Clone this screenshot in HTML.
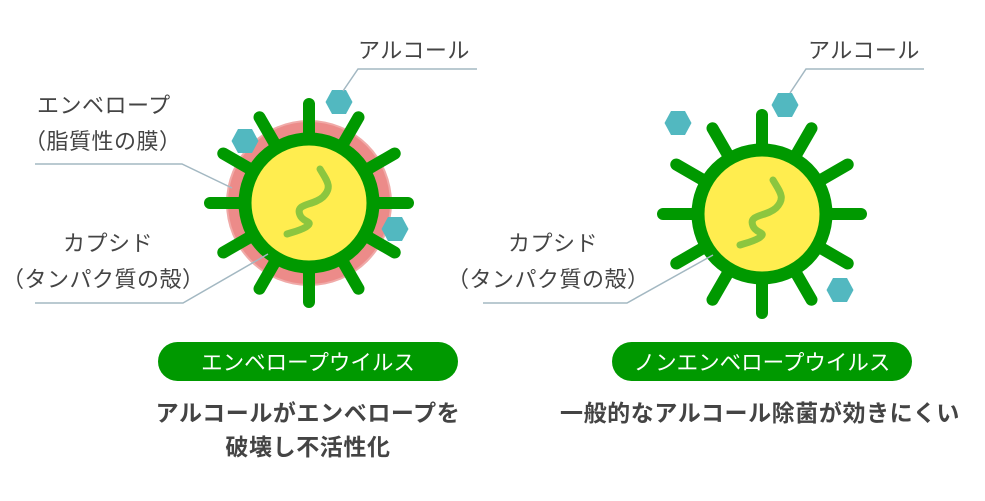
<!DOCTYPE html>
<html><head><meta charset="utf-8"><style>
body{margin:0;background:#fff;}
svg{display:block;font-family:"Liberation Sans","Noto Sans CJK JP",sans-serif;}
</style></head><body>
<svg width="985" height="501" viewBox="0 0 985 501" xmlns="http://www.w3.org/2000/svg">

<circle cx="309" cy="203" r="83" fill="#f0aaa8"/>
<circle cx="309" cy="203" r="81" fill="#ec8b89"/>
<g transform="translate(309,203)">
<g stroke="#009900" stroke-width="12" stroke-linecap="round">
<line x1="0" y1="-70" x2="0" y2="-99"/>
<line x1="0" y1="-70" x2="0" y2="-99" transform="rotate(30)"/>
<line x1="0" y1="-70" x2="0" y2="-99" transform="rotate(60)"/>
<line x1="0" y1="-70" x2="0" y2="-99" transform="rotate(90)"/>
<line x1="0" y1="-70" x2="0" y2="-99" transform="rotate(120)"/>
<line x1="0" y1="-70" x2="0" y2="-99" transform="rotate(150)"/>
<line x1="0" y1="-70" x2="0" y2="-99" transform="rotate(180)"/>
<line x1="0" y1="-70" x2="0" y2="-99" transform="rotate(210)"/>
<line x1="0" y1="-70" x2="0" y2="-99" transform="rotate(240)"/>
<line x1="0" y1="-70" x2="0" y2="-99" transform="rotate(270)"/>
<line x1="0" y1="-70" x2="0" y2="-99" transform="rotate(300)"/>
<line x1="0" y1="-70" x2="0" y2="-99" transform="rotate(330)"/>
</g>
<circle r="64" fill="#ffed4f" stroke="#009900" stroke-width="13"/>
<path d="M11,-34 C18,-22 24,-16 14,-6 C4,3 -14,0 -9,12 C-6,20 6,18 -3,24 C-10,28 -16,29 -22,31" fill="none" stroke="#8cc63f" stroke-width="7" stroke-linecap="round"/>
</g>
<polygon transform="translate(339,102)" points="-13.5,0 -7,-12 7,-12 13.5,0 7,12 -7,12" fill="#52b8c0"/>
<polygon transform="translate(245,141)" points="-13.5,0 -7,-12 7,-12 13.5,0 7,12 -7,12" fill="#52b8c0"/>
<polygon transform="translate(395,229)" points="-13.5,0 -7,-12 7,-12 13.5,0 7,12 -7,12" fill="#52b8c0"/>

<g transform="translate(762,214)">
<g stroke="#009900" stroke-width="12" stroke-linecap="round">
<line x1="0" y1="-70" x2="0" y2="-99"/>
<line x1="0" y1="-70" x2="0" y2="-99" transform="rotate(30)"/>
<line x1="0" y1="-70" x2="0" y2="-99" transform="rotate(60)"/>
<line x1="0" y1="-70" x2="0" y2="-99" transform="rotate(90)"/>
<line x1="0" y1="-70" x2="0" y2="-99" transform="rotate(120)"/>
<line x1="0" y1="-70" x2="0" y2="-99" transform="rotate(150)"/>
<line x1="0" y1="-70" x2="0" y2="-99" transform="rotate(180)"/>
<line x1="0" y1="-70" x2="0" y2="-99" transform="rotate(210)"/>
<line x1="0" y1="-70" x2="0" y2="-99" transform="rotate(240)"/>
<line x1="0" y1="-70" x2="0" y2="-99" transform="rotate(270)"/>
<line x1="0" y1="-70" x2="0" y2="-99" transform="rotate(300)"/>
<line x1="0" y1="-70" x2="0" y2="-99" transform="rotate(330)"/>
</g>
<circle r="64" fill="#ffed4f" stroke="#009900" stroke-width="13"/>
<path d="M11,-34 C18,-22 24,-16 14,-6 C4,3 -14,0 -9,12 C-6,20 6,18 -3,24 C-10,28 -16,29 -22,31" fill="none" stroke="#8cc63f" stroke-width="7" stroke-linecap="round"/>
</g>
<polygon transform="translate(678,123)" points="-13.5,0 -7,-12 7,-12 13.5,0 7,12 -7,12" fill="#52b8c0"/>
<polygon transform="translate(785,105)" points="-13.5,0 -7,-12 7,-12 13.5,0 7,12 -7,12" fill="#52b8c0"/>
<polygon transform="translate(840,290)" points="-13.5,0 -7,-12 7,-12 13.5,0 7,12 -7,12" fill="#52b8c0"/>

<g stroke="#a3b8c2" stroke-width="1.5" fill="none">
<polyline points="477,69 358,69 343,91"/>
<polyline points="35,164 182,164 232,188"/>
<polyline points="35,303 183,303 268,254"/>
<polyline points="924,69 806,69 790,93"/>
<polyline points="483,303 627,303 713,255"/>
</g>

<g fill="#444" font-size="22" letter-spacing="0.5">
<text x="358" y="58">アルコール</text>
<text x="37" y="113">エンベロープ</text>
<text x="24" y="149">（脂質性の膜）</text>
<text x="63" y="251">カプシド</text>
<text x="2" y="287">（タンパク質の殻）</text>
<text x="808" y="58">アルコール</text>
<text x="508" y="251">カプシド</text>
<text x="447" y="287">（タンパク質の殻）</text>
</g>

<rect x="158" y="342" width="300" height="39" rx="19.5" fill="#009900"/>
<text x="308" y="370" text-anchor="middle" fill="#fff" font-size="21.5">エンベロープウイルス</text>
<rect x="612" y="342" width="300" height="39" rx="19.5" fill="#009900"/>
<text x="762" y="370" text-anchor="middle" fill="#fff" font-size="21.5">ノンエンベロープウイルス</text>

<g fill="#444" font-size="23" font-weight="bold" text-anchor="middle" letter-spacing="0.6">
<text x="308" y="421">アルコールがエンベロープを</text>
<text x="308" y="455">破壊し不活性化</text>
<text x="760" y="421">一般的なアルコール除菌が効きにくい</text>
</g>
</svg>
</body></html>
